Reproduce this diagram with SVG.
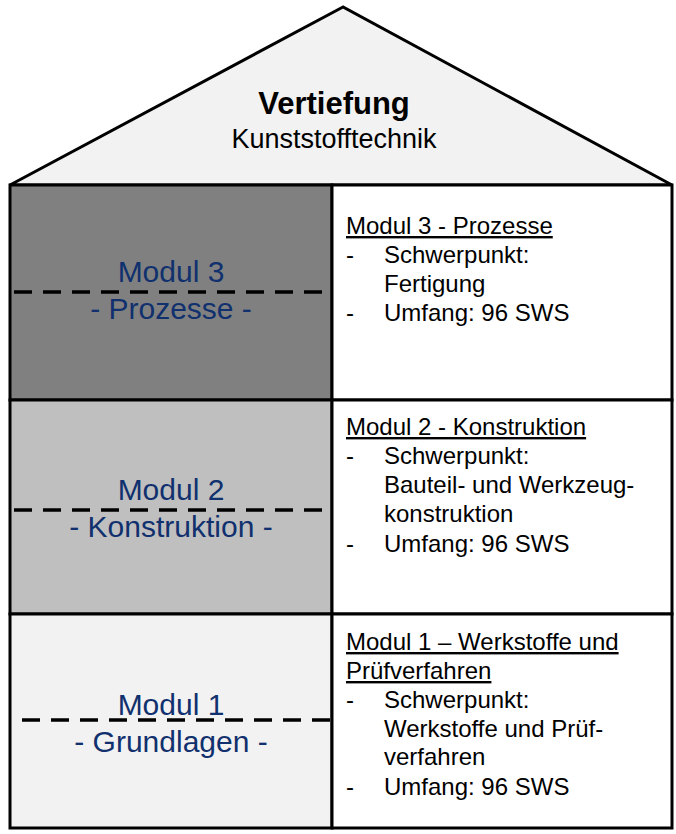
<svg xmlns="http://www.w3.org/2000/svg" width="676" height="834" viewBox="0 0 676 834">
<style>
.box{stroke:#000;stroke-width:3}
.dash{stroke:#000;stroke-width:3.5;stroke-dasharray:18 11;fill:none}
.mod{font-family:"Liberation Sans",Arial,sans-serif;font-size:30px;fill:#10306E;text-anchor:middle}
.txt{font-family:"Liberation Sans",Arial,sans-serif;font-size:24px;fill:#000}
.ul{text-decoration:underline}
</style>
<rect width="676" height="834" fill="#fff"/>
<g id="roof">
<polygon class="box" points="343,7 10,185 672,185" fill="#F2F2F2" stroke-linejoin="miter"/>
<text x="334" y="114" font-family="Liberation Sans,Arial,sans-serif" font-size="31" font-weight="bold" text-anchor="middle">Vertiefung</text>
<text x="334" y="148" font-family="Liberation Sans,Arial,sans-serif" font-size="27" text-anchor="middle">Kunststofftechnik</text>
</g>
<g id="modul3">
<rect class="box" x="10" y="185" width="322" height="215" fill="#808080"/>
<text class="mod" x="171" y="282">Modul 3</text>
<text class="mod" x="171" y="319">- Prozesse -</text>
</g>
<g id="modul3-info">
<rect class="box" x="332" y="185" width="340" height="215" fill="#fff"/>
<text class="txt ul" x="346" y="234">Modul 3 - Prozesse</text>
<text class="txt" x="346" y="263">-</text><text class="txt" x="384" y="263">Schwerpunkt:</text>
<text class="txt" x="384" y="292">Fertigung</text>
<text class="txt" x="346" y="321">-</text><text class="txt" x="384" y="321">Umfang: 96 SWS</text>
</g>
<g id="modul2">
<rect class="box" x="10" y="400" width="322" height="214" fill="#BFBFBF"/>
<text class="mod" x="171" y="500">Modul 2</text>
<text class="mod" x="171" y="537">- Konstruktion -</text>
</g>
<g id="modul2-info">
<rect class="box" x="332" y="400" width="340" height="214" fill="#fff"/>
<text class="txt ul" x="346" y="435">Modul 2 - Konstruktion</text>
<text class="txt" x="346" y="464">-</text><text class="txt" x="384" y="464">Schwerpunkt:</text>
<text class="txt" x="384" y="493">Bauteil- und Werkzeug-</text>
<text class="txt" x="384" y="522">konstruktion</text>
<text class="txt" x="346" y="552">-</text><text class="txt" x="384" y="552">Umfang: 96 SWS</text>
</g>
<g id="modul1">
<rect class="box" x="10" y="614" width="322" height="214" fill="#F2F2F2"/>
<text class="mod" x="171" y="715">Modul 1</text>
<text class="mod" x="171" y="752">- Grundlagen -</text>
</g>
<g id="modul1-info">
<rect class="box" x="332" y="614" width="340" height="214" fill="#fff"/>
<text class="txt ul" x="346" y="650">Modul 1 – Werkstoffe und</text>
<text class="txt ul" x="346" y="679">Prüfverfahren</text>
<text class="txt" x="346" y="708">-</text><text class="txt" x="384" y="708">Schwerpunkt:</text>
<text class="txt" x="384" y="737">Werkstoffe und Prüf-</text>
<text class="txt" x="384" y="765">verfahren</text>
<text class="txt" x="346" y="795">-</text><text class="txt" x="384" y="795">Umfang: 96 SWS</text>
</g>
<g id="connectors">
<line class="dash" x1="14" y1="292" x2="330" y2="292"/>
<line class="dash" x1="14" y1="510" x2="330" y2="510"/>
<line class="dash" x1="22" y1="720" x2="330" y2="720"/>
</g>
</svg>
